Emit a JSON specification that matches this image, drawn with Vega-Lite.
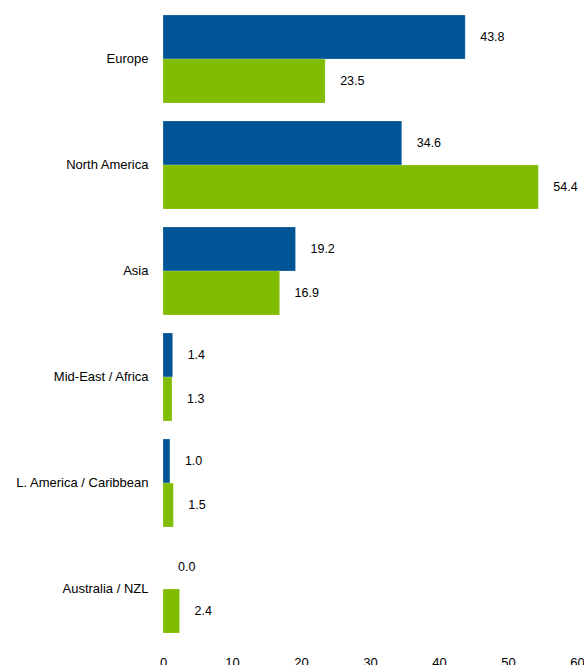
{
  "$schema": "https://vega.github.io/schema/vega-lite/v6.json",
  "autosize": "none",
  "padding": {"left": 163, "top": 6, "right": 7, "bottom": 23},
  "width": 414,
  "height": 636,
  "background": "white",
  "config": {
    "view": {"stroke": null},
    "font": "Liberation Sans"
  },
  "data": {
    "values": [
      {"region": "Europe", "series": "A", "value": 43.8},
      {"region": "Europe", "series": "B", "value": 23.5},
      {"region": "North America", "series": "A", "value": 34.6},
      {"region": "North America", "series": "B", "value": 54.4},
      {"region": "Asia", "series": "A", "value": 19.2},
      {"region": "Asia", "series": "B", "value": 16.9},
      {"region": "Mid-East / Africa", "series": "A", "value": 1.4},
      {"region": "Mid-East / Africa", "series": "B", "value": 1.3},
      {"region": "L. America / Caribbean", "series": "A", "value": 1.0},
      {"region": "L. America / Caribbean", "series": "B", "value": 1.5},
      {"region": "Australia / NZL", "series": "A", "value": 0.0},
      {"region": "Australia / NZL", "series": "B", "value": 2.4}
    ]
  },
  "encoding": {
    "y": {
      "field": "region",
      "type": "nominal",
      "sort": null,
      "scale": {"paddingInner": 0.17, "paddingOuter": 0.085},
      "axis": {
        "title": null,
        "domain": false,
        "ticks": false,
        "labelPadding": 15,
        "labelFontSize": 13,
        "labelColor": "#000000",
        "labelFont": "Liberation Sans"
      }
    },
    "yOffset": {"field": "series", "type": "nominal", "scale": {"paddingInner": 0, "paddingOuter": 0}},
    "x": {
      "field": "value",
      "type": "quantitative",
      "scale": {"domain": [0, 60], "nice": false},
      "axis": {
        "title": null,
        "domain": false,
        "ticks": false,
        "grid": false,
        "values": [0, 10, 20, 30, 40, 50, 60],
        "labelPadding": 14,
        "labelFontSize": 13,
        "labelColor": "#000000",
        "labelFont": "Liberation Sans",
        "labelFlush": false
      }
    }
  },
  "layer": [
    {
      "mark": {"type": "bar", "stroke": "#ffffff", "strokeOpacity": 0.4, "strokeWidth": 0.5},
      "encoding": {
        "color": {
          "field": "series",
          "type": "nominal",
          "scale": {"domain": ["A", "B"], "range": ["#005596", "#80BC00"]},
          "legend": null
        }
      }
    },
    {
      "mark": {"type": "text", "align": "left", "baseline": "middle", "dx": 15, "fontSize": 12.5, "color": "#000000", "font": "Liberation Sans"},
      "encoding": {
        "text": {"field": "value", "type": "quantitative", "format": ".1f"}
      }
    }
  ]
}
